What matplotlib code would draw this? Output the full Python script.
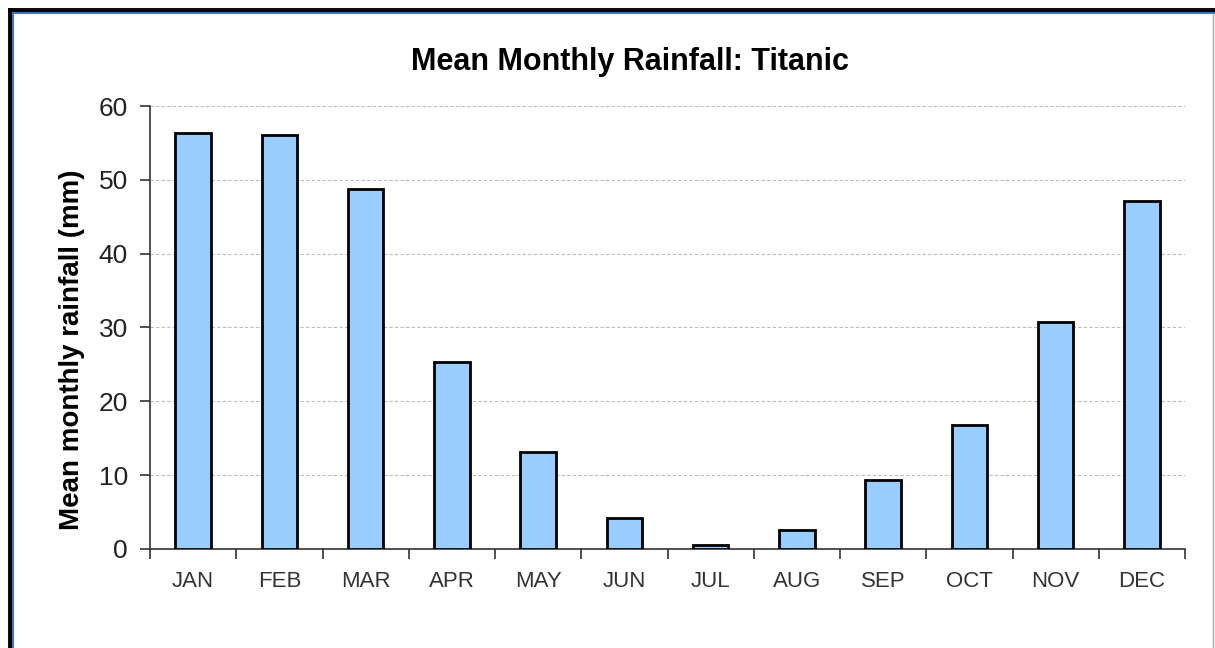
import matplotlib.pyplot as plt
import numpy as np
from matplotlib.lines import Line2D

months = ["JAN", "FEB", "MAR", "APR", "MAY", "JUN", "JUL", "AUG", "SEP", "OCT", "NOV", "DEC"]
rainfall = [56.4, 56.1, 48.8, 25.3, 13.1, 4.2, 0.5, 2.6, 9.4, 16.8, 30.8, 47.2]
y_ticks = [0, 10, 20, 30, 40, 50, 60]

plt.rcParams['font.family'] = ['Liberation Sans', 'DejaVu Sans']

fig = plt.figure(figsize=(12.15, 6.48), dpi=100)
ax = fig.add_axes([0.1235, 0.1528, 0.8518, 0.6836])

x = np.arange(len(months))
ax.bar(x, rainfall, width=0.41, color="#99CCFF", edgecolor="black", linewidth=2, zorder=3)

ax.set_xlim(-0.5, len(months) - 0.5)
ax.set_ylim(0, 60)
ax.set_yticks(y_ticks)
ax.tick_params(axis="y", labelsize=19, length=7, width=1.2, color="#333333", labelcolor="#222222", pad=9)

# tick marks between categories, labels in the middle
ax.set_xticks(np.arange(-0.5, len(months), 1.0))
ax.set_xticklabels([])
ax.set_xticks(x, minor=True)
ax.set_xticklabels(months, minor=True)
ax.tick_params(axis="x", which="major", length=7, width=1.2, color="#333333")
ax.tick_params(axis="x", which="minor", length=0, labelsize=16, labelcolor="#333333", pad=16)

for v in y_ticks[1:]:
    ax.axhline(v, color="#bbbbbb", linestyle=(0, (3, 2)), linewidth=0.8, zorder=1)

for s in ["top", "right"]:
    ax.spines[s].set_visible(False)
ax.spines["left"].set_color("#333333")
ax.spines["left"].set_linewidth(1.2)
ax.spines["bottom"].set_color("#333333")
ax.spines["bottom"].set_linewidth(1.2)

ax.set_ylabel("Mean monthly rainfall (mm)", fontsize=20, fontweight="bold")
ax.yaxis.set_label_coords(-0.0625, 0.45)
fig.text(0.5185, 0.904, "Mean Monthly Rainfall: Titanic", ha="center", va="center",
         fontsize=22, fontweight="bold")

# frame around the chart
W, H = 1215, 648
fig.add_artist(Line2D([10 / W, 10 / W], [0, 1 - 10 / H], color="black", linewidth=3.5))
fig.add_artist(Line2D([10 / W, 1], [1 - 10 / H, 1 - 10 / H], color="black", linewidth=3.5))
fig.add_artist(Line2D([12.5 / W, 12.5 / W], [0, 1 - 12.5 / H], color="#3a78c0", linewidth=1.5))
fig.add_artist(Line2D([12.5 / W, 1], [1 - 12.5 / H, 1 - 12.5 / H], color="#3a78c0", linewidth=1.5))
fig.add_artist(Line2D([1213 / W, 1213 / W], [0, 1 - 14 / H], color="#aaaaaa", linewidth=1))

fig.savefig("out.png", dpi=100)
